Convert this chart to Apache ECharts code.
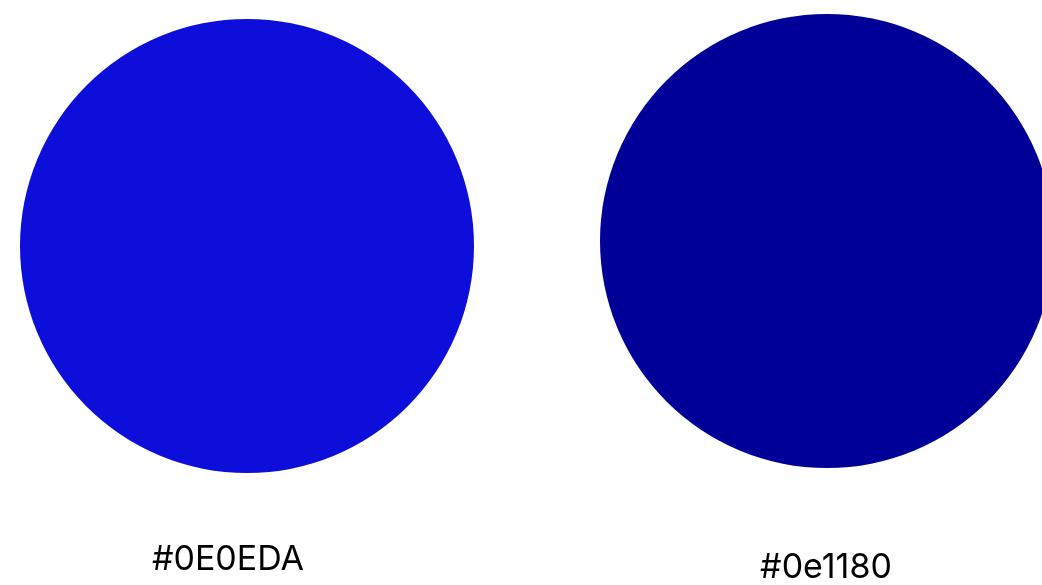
<!DOCTYPE html>
<html>
<head>
<meta charset="utf-8">
<script src="https://cdn.jsdelivr.net/npm/echarts@6/dist/echarts.min.js"></script>
<style>html,body{margin:0;padding:0;background:#fff;}#c{width:1042px;height:585px;}</style>
</head>
<body>
<div id="c"></div>
<script>
var labels = ['#0E0EDA', '#0e1180'];
var circleX = [247, 827];
var circleY = [246, 241];
var circleDiameter = [454, 454];
var labelX = [228, 826];
var labelY = [560, 568];
var fills = ['#0E0EDA', '#000099'];

var chart = echarts.init(document.getElementById('c'));
chart.setOption({
  animation: false,
  grid: {left: 0, right: 0, top: 0, bottom: 0},
  xAxis: {type: 'value', min: 0, max: 1042, show: false},
  yAxis: {type: 'value', min: 0, max: 585, inverse: true, show: false},
  series: [
    {
      type: 'scatter',
      symbol: 'circle',
      itemStyle: {opacity: 1},
      data: labels.map(function (l, i) {
        return {name: l, value: [circleX[i], circleY[i]], symbolSize: circleDiameter[i], itemStyle: {color: fills[i], opacity: 1}};
      }),
      silent: true
    },
    {
      type: 'scatter',
      symbolSize: 0,
      itemStyle: {opacity: 1},
      data: labels.map(function (l, i) {
        return {name: l, value: [labelX[i], labelY[i]]};
      }),
      label: {
        show: true, position: 'inside', formatter: '{b}',
        color: '#000', opacity: 1, fontSize: 34, fontFamily: 'Inter'
      },
      silent: true
    }
  ]
});
</script>
</body>
</html>
